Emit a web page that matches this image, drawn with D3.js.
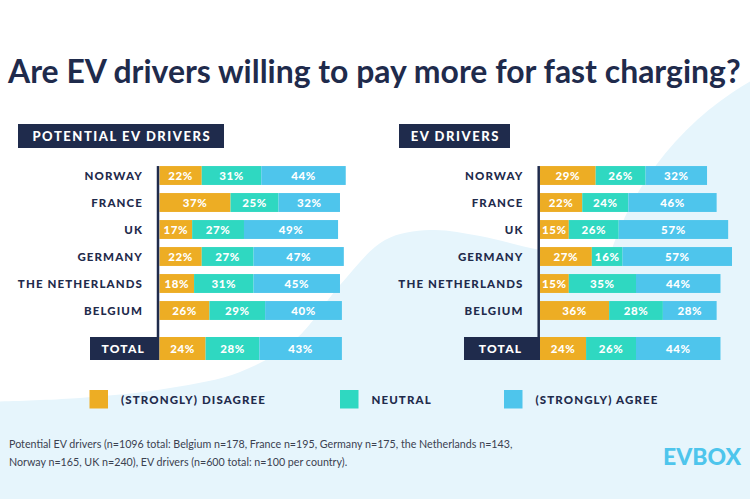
<!DOCTYPE html>
<html>
<head>
<meta charset="utf-8">
<script src="https://cdn.jsdelivr.net/npm/d3@7"></script>
<style>
  html, body { margin: 0; padding: 0; background: #ffffff; }
  svg { display: block; }
  text { font-family: Lato, "Open Sans", "Noto Sans", sans-serif; }
</style>
</head>
<body>
<svg id="chart" width="750" height="499"></svg>
<script>
// ---------------- DATA ----------------
const categories = ["NORWAY", "FRANCE", "UK", "GERMANY", "THE NETHERLANDS", "BELGIUM"];
const seriesNames = ["(STRONGLY) DISAGREE", "NEUTRAL", "(STRONGLY) AGREE"];
const potentialDisagree = [22, 37, 17, 22, 18, 26];
const potentialNeutral  = [31, 25, 27, 27, 31, 29];
const potentialAgree    = [44, 32, 49, 47, 45, 40];
const potentialTotal    = [24, 28, 43];
const driversDisagree   = [29, 22, 15, 27, 15, 36];
const driversNeutral    = [26, 24, 26, 16, 35, 28];
const driversAgree      = [32, 46, 57, 57, 44, 28];
const driversTotal      = [24, 26, 44];
const panelTitles = ["POTENTIAL EV DRIVERS", "EV DRIVERS"];
const totalLabel = "TOTAL";
const titleText = "Are EV drivers willing to pay more for fast charging?";
const footnoteLines = [
  "Potential EV drivers (n=1096 total: Belgium n=178, France n=195, Germany n=175, the Netherlands n=143,",
  "Norway n=165, UK n=240), EV drivers (n=600 total: n=100 per country)."
];

// ---------------- STYLE ----------------
const colors = ["#EDAD24", "#2FD8C1", "#4EC5EC"];
const navy = "#1F2B4C";
const lightBlue = "#E6F5FC";

const svg = d3.select("#chart");

// ---------------- BACKGROUND ----------------
svg.append("rect").attr("width", 750).attr("height", 499).attr("fill", "#ffffff");
const waveLine = d3.line().curve(d3.curveCatmullRom.alpha(0.5));
const wavePts = [[-20, 402], [80, 398], [170, 388], [240, 372], [295, 340], [340, 285], [385, 240], [430, 230], [480, 236], [540, 250], [620, 262], [770, 262]];
svg.append("path")
  .attr("d", waveLine(wavePts) + "L770,520L-20,520Z")
  .attr("fill", lightBlue);
svg.append("circle").attr("cx", 905).attr("cy", 350).attr("r", 310).attr("fill", lightBlue);

// ---------------- TITLE ----------------
const title = svg.append("text")
  .attr("x", 8).attr("y", 83)
  .attr("fill", navy)
  .attr("font-weight", 700)
  .attr("font-size", 26)
  .text(titleText);
{
  const w = title.node().getComputedTextLength();
  title.attr("font-size", 26 * 733 / w);
}

// ---------------- PANELS ----------------
const x = d3.scaleLinear().domain([0, 100]).range([0, 192]);
const y = d3.scaleBand().domain(categories).range([162, 324]).paddingInner(0.3).paddingOuter(0.15);
const totalY = 337, totalH = 23;

const panels = [
  { title: panelTitles[0], hdr: [18, 124, 206, 24], x0: 159.5, axisX: 158, labelEnd: 143, totalBox: [90, 69.5],
    rows: [potentialDisagree, potentialNeutral, potentialAgree], total: potentialTotal },
  { title: panelTitles[1], hdr: [399, 124, 111, 24], x0: 540, axisX: 538.7, labelEnd: 523.5, totalBox: [464, 76],
    rows: [driversDisagree, driversNeutral, driversAgree], total: driversTotal }
];

panels.forEach(p => {
  const g = svg.append("g");
  // header
  g.append("rect").attr("x", p.hdr[0]).attr("y", p.hdr[1]).attr("width", p.hdr[2]).attr("height", p.hdr[3]).attr("fill", navy);
  g.append("text")
    .attr("x", p.hdr[0] + p.hdr[2] / 2 + 0.8).attr("y", p.hdr[1] + p.hdr[3] / 2 + 4.6)
    .attr("text-anchor", "middle")
    .attr("fill", "#ffffff").attr("font-weight", 900).attr("font-size", 13).attr("letter-spacing", 1.55)
    .text(p.title);

  // build stacked data
  const data = categories.map((c, i) => ({ cat: c, vals: [p.rows[0][i], p.rows[1][i], p.rows[2][i]] }));
  data.forEach(d => {
    let acc = 0;
    d.segs = d.vals.map((v, k) => { const s = { k, v, start: acc }; acc += v; return s; });
  });

  // bars
  data.forEach(d => {
    const row = g.append("g");
    row.selectAll("rect").data(d.segs).join("rect")
      .attr("x", s => p.x0 + x(s.start))
      .attr("y", y(d.cat))
      .attr("width", s => x(s.v))
      .attr("height", y.bandwidth())
      .attr("fill", s => colors[s.k]);
    row.selectAll("text").data(d.segs).join("text")
      .attr("x", s => p.x0 + x(s.start + s.v / 2))
      .attr("y", y(d.cat) + y.bandwidth() / 2 + 4)
      .attr("text-anchor", "middle")
      .attr("fill", "#ffffff").attr("font-weight", 900).attr("font-size", 11.5).attr("letter-spacing", 0.6)
      .text(s => s.v + "%");
    // category label
    g.append("text")
      .attr("x", p.labelEnd).attr("y", y(d.cat) + y.bandwidth() / 2 + 4)
      .attr("text-anchor", "end")
      .attr("fill", navy).attr("font-weight", 900).attr("font-size", 11.5).attr("letter-spacing", 1.1)
      .text(d.cat);
  });

  // axis line
  g.append("line")
    .attr("x1", p.axisX).attr("x2", p.axisX)
    .attr("y1", y(categories[0])).attr("y2", totalY)
    .attr("stroke", navy).attr("stroke-width", 2.5);

  // total row
  g.append("rect").attr("x", p.totalBox[0]).attr("y", totalY).attr("width", p.totalBox[1]).attr("height", totalH).attr("fill", navy);
  g.append("text")
    .attr("x", p.totalBox[0] + p.totalBox[1] / 2 - 1.5).attr("y", totalY + totalH / 2 + 4.3)
    .attr("text-anchor", "middle")
    .attr("fill", "#ffffff").attr("font-weight", 900).attr("font-size", 12).attr("letter-spacing", 1.2)
    .text(totalLabel);
  let acc = 0;
  const tsegs = p.total.map((v, k) => { const s = { k, v, start: acc }; acc += v; return s; });
  g.selectAll("rect.tot").data(tsegs).join("rect").attr("class", "tot")
    .attr("x", s => p.x0 + x(s.start)).attr("y", totalY)
    .attr("width", s => x(s.v)).attr("height", totalH)
    .attr("fill", s => colors[s.k]);
  g.selectAll("text.tot").data(tsegs).join("text").attr("class", "tot")
    .attr("x", s => p.x0 + x(s.start + s.v / 2)).attr("y", totalY + totalH / 2 + 4.2)
    .attr("text-anchor", "middle")
    .attr("fill", "#ffffff").attr("font-weight", 900).attr("font-size", 11.5).attr("letter-spacing", 0.6)
    .text(s => s.v + "%");
});

// ---------------- LEGEND ----------------
const legendX = [89.5, 340, 504];
const legend = svg.append("g");
seriesNames.forEach((name, i) => {
  legend.append("rect").attr("x", legendX[i]).attr("y", 390).attr("width", 18.5).attr("height", 18.5).attr("fill", colors[i]);
  legend.append("text")
    .attr("x", legendX[i] + 31.5).attr("y", 403.5)
    .attr("fill", navy).attr("font-weight", 900).attr("font-size", 11.5).attr("letter-spacing", 1.1)
    .text(name);
});

// ---------------- FOOTNOTE ----------------
const fn = svg.append("g");
const fl1 = fn.append("text").attr("x", 9).attr("y", 447.5).attr("fill", "#3b4150").attr("font-size", 10).text(footnoteLines[0]);
const w1 = fl1.node().getComputedTextLength();
const fs = 10 * 504 / w1;
fl1.attr("font-size", fs);
fn.append("text").attr("x", 9).attr("y", 465.5).attr("fill", "#3b4150").attr("font-size", fs).text(footnoteLines[1]);

// ---------------- LOGO ----------------
const logo = svg.append("text")
  .attr("x", 663).attr("y", 465)
  .attr("fill", "#4EC5EC").attr("font-weight", 900).attr("font-size", 23)
  .attr("textLength", 78).attr("lengthAdjust", "spacingAndGlyphs")
  .text("EVBOX");
</script>
</body>
</html>
